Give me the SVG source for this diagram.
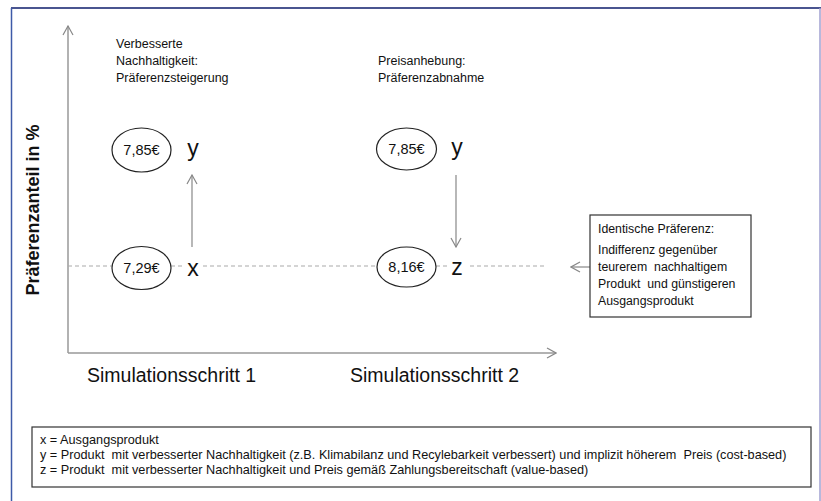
<svg xmlns="http://www.w3.org/2000/svg" width="821" height="501" viewBox="0 0 821 501">
<defs>
<style>
text{font-family:"Liberation Sans",Arial,sans-serif;fill:#111}
.ax{stroke:#999;stroke-width:1.5;fill:none}
.ar{stroke:#888;stroke-width:1.2;fill:none}
.ds{stroke:#aaa;stroke-width:1.2;stroke-dasharray:4 3;fill:none}
.el{fill:#fff;stroke:#222;stroke-width:1.2}
.ev{font-size:14.5px;text-anchor:middle}
.lt{font-size:23px;text-anchor:middle}
.sm{font-size:12.5px}
.bx{font-size:12.3px;white-space:pre}
.lg{font-size:12.7px;white-space:pre}
.st{font-size:19.5px}
</style>
<marker id="ah" viewBox="0 0 12 12" refX="11" refY="6" markerWidth="12" markerHeight="12" markerUnits="userSpaceOnUse" orient="auto">
<polyline points="2,1 11,6 2,11" fill="none" stroke="#888" stroke-width="1.2"/>
</marker>
</defs>
<rect width="821" height="501" fill="#fff"/>
<g id="frame">
<line x1="11" y1="8" x2="821" y2="8" stroke="#4a5590" stroke-width="2"/>
<line x1="11.5" y1="8" x2="11.5" y2="501" stroke="#3d5aa8" stroke-width="1.5"/>
<line x1="820" y1="8" x2="820" y2="501" stroke="#a0a0d0" stroke-width="1.5"/>
</g>
<g id="connectors">
<line class="ax" x1="68" y1="353" x2="68" y2="26" marker-end="url(#ah)"/>
<line class="ax" x1="68" y1="353" x2="556" y2="353" marker-end="url(#ah)"/>
<path class="ds" d="M68,266H112 M171,266H184 M203,266H377 M436,266H448 M470,266H545"/>
<line class="ar" x1="192" y1="247" x2="192" y2="175" marker-end="url(#ah)"/>
<line class="ar" x1="456" y1="175" x2="456" y2="247" marker-end="url(#ah)"/>
<line class="ar" x1="590" y1="267" x2="571" y2="267" marker-end="url(#ah)"/>
</g>
<g id="axis-label">
<text transform="translate(39,210) rotate(-90)" text-anchor="middle" font-size="18px" font-weight="bold">Präferenzanteil in %</text>
</g>
<g id="label-step1">
<text class="sm" x="116" y="48">Verbesserte</text>
<text class="sm" x="116" y="65">Nachhaltigkeit:</text>
<text class="sm" x="116" y="82">Präferenzsteigerung</text>
</g>
<g id="label-step2">
<text class="sm" x="378" y="65">Preisanhebung:</text>
<text class="sm" x="378" y="82">Präferenzabnahme</text>
</g>
<g id="node-y1">
<ellipse class="el" cx="141.5" cy="150" rx="29.5" ry="22"/>
<text class="ev" x="141.5" y="155">7,85€</text>
<text class="lt" x="193" y="156">y</text>
</g>
<g id="node-x">
<ellipse class="el" cx="141.5" cy="268" rx="29.5" ry="21.5"/>
<text class="ev" x="141.5" y="273">7,29€</text>
<text class="lt" x="193" y="276">x</text>
</g>
<g id="node-y2">
<ellipse class="el" cx="406.5" cy="149" rx="30" ry="21"/>
<text class="ev" x="406.5" y="154">7,85€</text>
<text class="lt" x="457" y="155">y</text>
</g>
<g id="node-z">
<ellipse class="el" cx="406.5" cy="267" rx="29.5" ry="20"/>
<text class="ev" x="406.5" y="272">8,16€</text>
<text class="lt" x="457" y="275">z</text>
</g>
<g id="note-box">
<rect x="590" y="215" width="161" height="102" fill="#fff" stroke="#333" stroke-width="1.2"/>
<text class="bx" x="598" y="233">Identische Präferenz:</text>
<text class="bx" x="598" y="254">Indifferenz gegenüber</text>
<text class="bx" x="598" y="271">teurerem  nachhaltigem</text>
<text class="bx" x="598" y="288">Produkt  und günstigeren</text>
<text class="bx" x="598" y="305">Ausgangsprodukt</text>
</g>
<g id="step-labels">
<text class="st" x="87" y="382">Simulationsschritt 1</text>
<text class="st" x="350" y="382">Simulationsschritt 2</text>
</g>
<g id="legend">
<rect x="32" y="427" width="779" height="60" fill="#fff" stroke="#333" stroke-width="1.2"/>
<text class="lg" x="40" y="444">x = Ausgangsprodukt</text>
<text class="lg" x="40" y="459">y = Produkt  mit verbesserter Nachhaltigkeit (z.B. Klimabilanz und Recylebarkeit verbessert) und implizit höherem  Preis (cost-based)</text>
<text class="lg" x="40" y="474">z = Produkt  mit verbesserter Nachhaltigkeit und Preis gemäß Zahlungsbereitschaft (value-based)</text>
</g>
</svg>
